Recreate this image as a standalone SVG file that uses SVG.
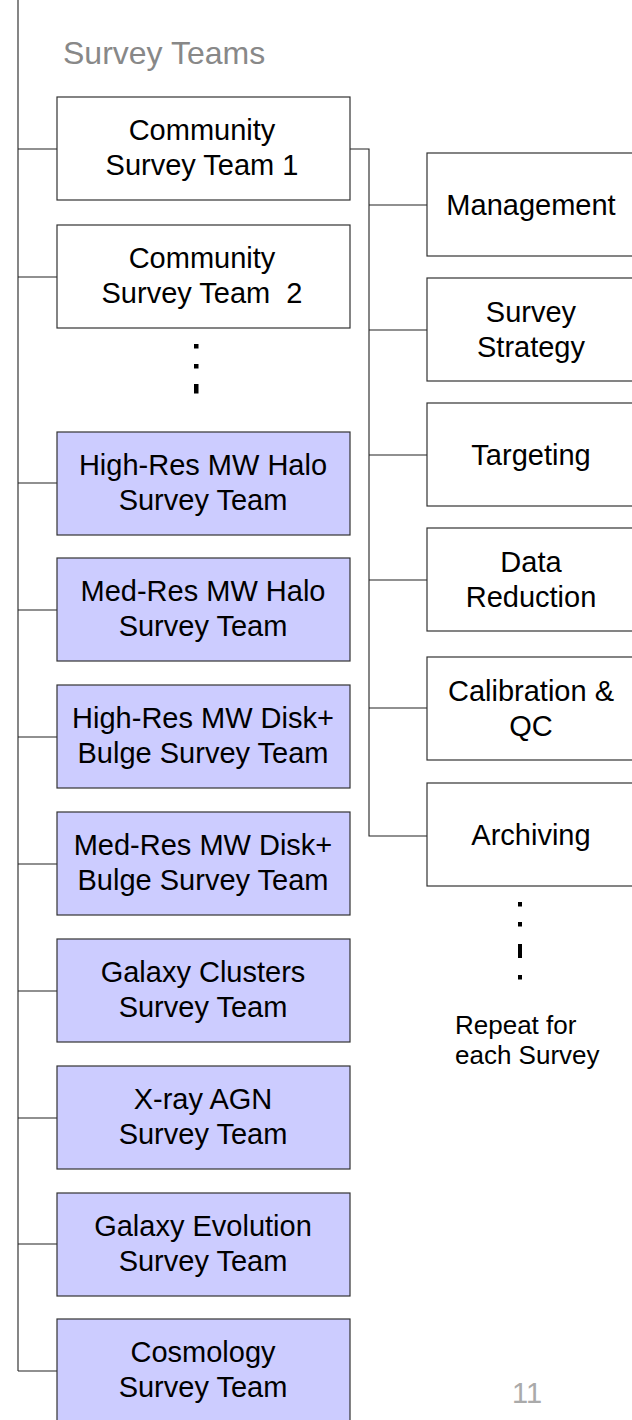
<svg xmlns="http://www.w3.org/2000/svg" width="632" height="1420" viewBox="0 0 632 1420">
<style>
.box{stroke:#333;stroke-width:1.2;}
.w{fill:#ffffff;}
.p{fill:#ccccff;}
.t{font-family:"Liberation Sans",Arial,sans-serif;font-size:29px;fill:#000;text-anchor:middle;}
.ln{fill:none;stroke:#222;stroke-width:1.1;}
.dot{fill:#000;}
</style>
<rect width="632" height="1420" fill="#ffffff"/>
<g id="connectors">
<path class="ln" d="M18 0V1371"/>
<path class="ln" d="M18 149H57M18 277H57M18 483H57M18 610H57M18 737H57M18 864H57M18 991H57M18 1118H57M18 1244H57M18 1371H57"/>
<path class="ln" d="M350 149H369V836H427M369 205H427M369 330H427M369 455H427M369 580H427M369 708H427"/>
</g>
<g id="title"><text x="63" y="64" style="font-family:'Liberation Sans',Arial,sans-serif;font-size:32px;fill:#888888">Survey Teams</text></g>
<g id="cst1"><rect class="box w" x="57" y="97" width="293" height="103"/><text class="t" x="202" y="140">Community</text><text class="t" x="202" y="175">Survey Team 1</text></g>
<g id="cst2"><rect class="box w" x="57" y="225" width="293" height="103"/><text class="t" x="202" y="268">Community</text><text class="t" x="202" y="303" xml:space="preserve">Survey Team  2</text></g>
<g id="dots-left"><rect class="dot" x="194" y="344" width="4.5" height="4.5"/><rect class="dot" x="194" y="364" width="4.5" height="4.5"/><rect class="dot" x="194" y="384" width="4.5" height="9.5"/></g>
<g id="hrhalo"><rect class="box p" x="57" y="432" width="293" height="103"/><text class="t" x="203" y="475">High-Res MW Halo</text><text class="t" x="203" y="510">Survey Team</text></g>
<g id="mrhalo"><rect class="box p" x="57" y="558" width="293" height="103"/><text class="t" x="203" y="601">Med-Res MW Halo</text><text class="t" x="203" y="636">Survey Team</text></g>
<g id="hrdisk"><rect class="box p" x="57" y="685" width="293" height="103"/><text class="t" x="203" y="728">High-Res MW Disk+</text><text class="t" x="203" y="763">Bulge Survey Team</text></g>
<g id="mrdisk"><rect class="box p" x="57" y="812" width="293" height="103"/><text class="t" x="203" y="855">Med-Res MW Disk+</text><text class="t" x="203" y="890">Bulge Survey Team</text></g>
<g id="clusters"><rect class="box p" x="57" y="939" width="293" height="103"/><text class="t" x="203" y="982">Galaxy Clusters</text><text class="t" x="203" y="1017">Survey Team</text></g>
<g id="xray"><rect class="box p" x="57" y="1066" width="293" height="103"/><text class="t" x="203" y="1109">X-ray AGN</text><text class="t" x="203" y="1144">Survey Team</text></g>
<g id="galevo"><rect class="box p" x="57" y="1193" width="293" height="103"/><text class="t" x="203" y="1236">Galaxy Evolution</text><text class="t" x="203" y="1271">Survey Team</text></g>
<g id="cosmo"><rect class="box p" x="57" y="1319" width="293" height="103"/><text class="t" x="203" y="1362">Cosmology</text><text class="t" x="203" y="1397">Survey Team</text></g>
<g id="mgmt"><rect class="box w" x="427" y="153" width="208" height="103"/><text class="t" x="531" y="215">Management</text></g>
<g id="strategy"><rect class="box w" x="427" y="278" width="208" height="103"/><text class="t" x="531" y="322">Survey</text><text class="t" x="531" y="357">Strategy</text></g>
<g id="targeting"><rect class="box w" x="427" y="403" width="208" height="103"/><text class="t" x="531" y="465">Targeting</text></g>
<g id="reduction"><rect class="box w" x="427" y="528" width="208" height="103"/><text class="t" x="531" y="572">Data</text><text class="t" x="531" y="607">Reduction</text></g>
<g id="calib"><rect class="box w" x="427" y="657" width="208" height="103"/><text class="t" x="531" y="701">Calibration &amp;</text><text class="t" x="531" y="736">QC</text></g>
<g id="archiving"><rect class="box w" x="427" y="783" width="208" height="103"/><text class="t" x="531" y="845">Archiving</text></g>
<g id="dots-right"><rect class="dot" x="518" y="902" width="4" height="4.5"/><rect class="dot" x="518" y="922" width="4" height="4.5"/><rect class="dot" x="518" y="944" width="4" height="14"/><rect class="dot" x="518" y="975" width="4" height="4.5"/></g>
<g id="repeat"><text x="455" y="1034" style="font-family:'Liberation Sans',Arial,sans-serif;font-size:26px;fill:#000">Repeat for</text><text x="455" y="1064" style="font-family:'Liberation Sans',Arial,sans-serif;font-size:26px;fill:#000">each Survey</text></g>
<g id="pagenum"><text x="527" y="1403" style="font-family:'Liberation Sans',Arial,sans-serif;font-size:29px;fill:#aaaaaa;text-anchor:middle">11</text></g>
</svg>
